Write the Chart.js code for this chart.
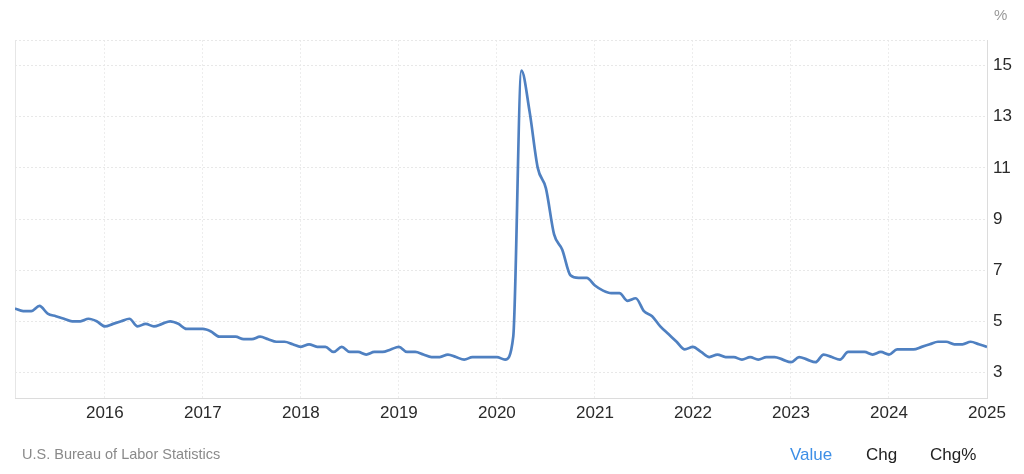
<!DOCTYPE html>
<html><head><meta charset="utf-8">
<script src="https://cdn.jsdelivr.net/npm/chart.js@4.4.1/dist/chart.umd.min.js"></script>
<style>
html,body{margin:0;padding:0;background:#fff;width:1024px;height:474px;overflow:hidden;font-family:"Liberation Sans",Arial,sans-serif;}
#wrap{position:relative;width:1024px;height:474px;}
canvas{position:absolute;left:0;top:0;}
.t{position:absolute;white-space:nowrap;}
</style></head><body>
<div id="wrap">
<canvas id="c" width="1024" height="474"></canvas>
<div class="t" style="left:994px;top:6px;font-size:15px;color:#999;">%</div>
<div class="t" style="left:22px;top:446px;font-size:14.5px;color:#8a8a8a;">U.S. Bureau of Labor Statistics</div>
<div class="t" style="left:790px;top:445px;font-size:17px;color:#3d8fe6;">Value</div>
<div class="t" style="left:866px;top:445px;font-size:17px;color:#222;">Chg</div>
<div class="t" style="left:930px;top:445px;font-size:17px;color:#222;">Chg%</div>
</div>
<script>
// Monthly unemployment rate (%), series starts Feb 2015
const startYear = 2015, startMonth = 2;
const y2015 = [5.5,5.4,5.4,5.6,5.3,5.2,5.1,5.0,5.0,5.1,5.0]; // Feb-Dec
const y2016 = [4.8,4.9,5.0,5.1,4.8,4.9,4.8,4.9,5.0,4.9,4.7,4.7];
const y2017 = [4.7,4.6,4.4,4.4,4.4,4.3,4.3,4.4,4.3,4.2,4.2,4.1];
const y2018 = [4.0,4.1,4.0,4.0,3.8,4.0,3.8,3.8,3.7,3.8,3.8,3.9];
const y2019 = [4.0,3.8,3.8,3.7,3.6,3.6,3.7,3.6,3.5,3.6,3.6,3.6];
const y2020 = [3.6,3.5,4.4,14.8,13.2,11.0,10.2,8.4,7.8,6.8,6.7,6.7];
const y2021 = [6.4,6.2,6.1,6.1,5.8,5.9,5.4,5.2,4.8,4.5,4.2,3.9];
const y2022 = [4.0,3.8,3.6,3.7,3.6,3.6,3.5,3.6,3.5,3.6,3.6,3.5];
const y2023 = [3.4,3.6,3.5,3.4,3.7,3.6,3.5,3.8,3.8,3.8,3.7,3.8];
const y2024 = [3.7,3.9,3.9,3.9,4.0,4.1,4.2,4.2,4.1,4.1,4.2,4.1];
const y2025 = [4.0];
const yearTicks = [2016,2017,2018,2019,2020,2021,2022,2023,2024,2025];
const valueTicks = [3,5,7,9,11,13,15];

const values = [].concat(y2015,y2016,y2017,y2018,y2019,y2020,y2021,y2022,y2023,y2024,y2025);
const pts = values.map((v,i)=>({x: startYear + (startMonth-1+i)/12, y: v}));

new Chart(document.getElementById('c'), {
  type: 'line',
  data: { datasets: [{ data: pts, borderColor: '#4f80c1', borderWidth: 2.7,
    pointRadius: 0, fill: false, cubicInterpolationMode: 'monotone' }] },
  options: {
    responsive: false, animation: false,
    layout: { padding: { left: 15, right: 0, top: 40, bottom: 46 } },
    plugins: { legend: { display: false }, tooltip: { enabled: false } },
    scales: {
      x: { type: 'linear', min: pts[0].x, max: pts[pts.length-1].x,
        afterBuildTicks: s => { s.ticks = yearTicks.map(v=>({value:v})); },
        afterFit: s => { s.height = 30; },
        grid: { color: '#ededed', lineWidth: 1, drawTicks: false },
        border: { color: '#dcdcdc', dash: [2,2] },
        ticks: { padding: 5, color: '#2a2a2a', font: { family: 'Liberation Sans', size: 17 },
          callback: v => String(Math.round(v)), maxRotation: 0, autoSkip: false }
      },
      y: { position: 'right', min: 2, max: 16,
        afterBuildTicks: s => { s.ticks = valueTicks.map(v=>({value:v})); },
        afterFit: s => { s.width = 37; },
        grid: { color: '#e8e8e8', lineWidth: 1, drawTicks: false },
        border: { color: '#dcdcdc', dash: [2,2] },
        ticks: { padding: 6, color: '#2a2a2a', font: { family: 'Liberation Sans', size: 17 } }
      }
    }
  },
  plugins: [{
    id: 'frame',
    beforeDatasetsDraw(chart) {
      const {ctx, chartArea: a} = chart;
      ctx.save();
      ctx.strokeStyle = '#e8e8e8'; ctx.lineWidth = 1;
      ctx.setLineDash([2,2]);
      ctx.beginPath(); ctx.moveTo(a.left, a.top + 0.5); ctx.lineTo(a.right, a.top + 0.5); ctx.stroke();
      ctx.setLineDash([]);
      ctx.strokeStyle = '#e6e6e6';
      ctx.beginPath(); ctx.moveTo(a.left + 0.5, a.top); ctx.lineTo(a.left + 0.5, a.bottom); ctx.stroke();
      ctx.restore();
    }
  }]
});
</script>
</body></html>
